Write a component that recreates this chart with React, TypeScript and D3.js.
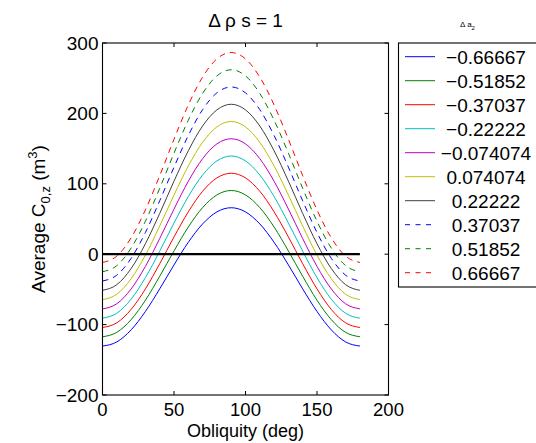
import React from "react";
import * as d3 from "d3";

// Obliquity samples (deg)
const obliquity = [0, 10, 20, 30, 40, 50, 60, 70, 80, 90, 100, 110, 120, 130, 140, 150, 160, 170, 180];

// Average C_{0,z} (m^3) for each Δa2 value
const cM066667 = [-130.5, -124.6, -107.5, -81.4, -49.3, -15.2, 16.9, 43.0, 60.1, 66.0, 60.1, 43.0, 16.9, -15.2, -49.3, -81.4, -107.5, -124.6, -130.5];
const cM051852 = [-117.3, -111.0, -93.0, -65.4, -31.4, 4.6, 38.6, 66.2, 84.2, 90.5, 84.2, 66.2, 38.6, 4.6, -31.4, -65.4, -93.0, -111.0, -117.3];
const cM037037 = [-104.1, -97.5, -78.5, -49.3, -13.6, 24.5, 60.2, 89.4, 108.4, 115.0, 108.4, 89.4, 60.2, 24.5, -13.6, -49.3, -78.5, -97.5, -104.1];
const cM022222 = [-90.9, -83.9, -63.9, -33.3, 4.3, 44.3, 81.9, 112.5, 132.5, 139.5, 132.5, 112.5, 81.9, 44.3, 4.3, -33.3, -63.9, -83.9, -90.9];
const cM0074074 = [-77.7, -70.4, -49.4, -17.3, 22.2, 64.1, 103.6, 135.7, 156.7, 164.0, 156.7, 135.7, 103.6, 64.1, 22.2, -17.3, -49.4, -70.4, -77.7];
const cP0074074 = [-64.5, -56.9, -34.9, -1.3, 40.0, 84.0, 125.3, 158.9, 180.9, 188.5, 180.9, 158.9, 125.3, 84.0, 40.0, -1.3, -34.9, -56.9, -64.5];
const cP022222 = [-51.3, -43.3, -20.4, 14.8, 57.9, 103.8, 146.9, 182.1, 205.0, 213.0, 205.0, 182.1, 146.9, 103.8, 57.9, 14.8, -20.4, -43.3, -51.3];
const cP037037 = [-38.1, -29.8, -5.9, 30.8, 75.8, 123.6, 168.6, 205.3, 229.2, 237.5, 229.2, 205.3, 168.6, 123.6, 75.8, 30.8, -5.9, -29.8, -38.1];
const cP051852 = [-24.9, -16.2, 8.7, 46.8, 93.6, 143.5, 190.3, 228.4, 253.3, 262.0, 253.3, 228.4, 190.3, 143.5, 93.6, 46.8, 8.7, -16.2, -24.9];
const cP066667 = [-11.7, -2.7, 23.2, 62.9, 111.5, 163.3, 212.0, 251.6, 277.5, 286.5, 277.5, 251.6, 212.0, 163.3, 111.5, 62.9, 23.2, -2.7, -11.7];

const seriesLabels = ["\u22120.66667", "\u22120.51852", "\u22120.37037", "\u22120.22222", "\u22120.074074", "0.074074", "0.22222", "0.37037", "0.51852", "0.66667"];
const seriesValues = [cM066667, cM051852, cM037037, cM022222, cM0074074, cP0074074, cP022222, cP037037, cP051852, cP066667];
const seriesColors = ["#0000ff", "#008000", "#ff0000", "#00bfbf", "#bf00bf", "#bfbf00", "#404040", "#0000ff", "#008000", "#ff0000"];
const seriesDashed = [false, false, false, false, false, false, false, true, true, true];

const xTicks = [0, 50, 100, 150, 200];
const yTicks = [-200, -100, 0, 100, 200, 300];
const zeroLineX = [0, 180];

const FONT = "'Liberation Sans', Arial, Helvetica, sans-serif";

export default function App() {
  const W = 536;
  const H = 443;
  const left = 102.5;
  const right = 388.5;
  const top = 43;
  const bottom = 395;

  const x = d3.scaleLinear().domain([0, 200]).range([left, right]);
  const y = d3.scaleLinear().domain([-200, 300]).range([bottom, top]);

  const line = d3
    .line<number>()
    .x((_, i) => x(obliquity[i]))
    .y((d) => y(d))
    .curve(d3.curveMonotoneX);

  const tickLen = 4;
  const fmt = (v: number) => (v < 0 ? "\u2212" + Math.abs(v) : String(v));

  const legLeft = 398.5;
  const legTop = 43;
  const legBottom = 287;
  const legRight = 537;
  const legRow0 = 56.7;
  const legStep = 24;

  return (
    <svg
      width={W}
      height={H}
      style={{ position: "absolute", left: 0, top: 0, background: "#fff" }}
      fontFamily={FONT}
    >
      <rect x={0} y={0} width={W} height={H} fill="#fff" />

      {/* curves */}
      {seriesValues.map((vals, k) => (
        <path
          key={k}
          d={line(vals) || ""}
          fill="none"
          stroke={seriesColors[k]}
          strokeWidth={1}
          strokeDasharray={seriesDashed[k] ? "6,5" : undefined}
        />
      ))}

      {/* zero reference line */}
      <line
        x1={x(zeroLineX[0])}
        x2={x(zeroLineX[1])}
        y1={y(0)}
        y2={y(0)}
        stroke="#000"
        strokeWidth={2.2}
      />

      {/* axes box */}
      <rect x={left} y={top} width={right - left} height={bottom - top} fill="none" stroke="#000" strokeWidth={1.1} />

      {/* x ticks */}
      {xTicks.map((t) => (
        <g key={"x" + t}>
          <line x1={x(t)} x2={x(t)} y1={bottom} y2={bottom - tickLen} stroke="#000" />
          <line x1={x(t)} x2={x(t)} y1={top} y2={top + tickLen} stroke="#000" />
          <text x={x(t)} y={416} fontSize={18.5} textAnchor="middle">
            {fmt(t)}
          </text>
        </g>
      ))}

      {/* y ticks */}
      {yTicks.map((t) => (
        <g key={"y" + t}>
          <line x1={left} x2={left + tickLen} y1={y(t)} y2={y(t)} stroke="#000" />
          <line x1={right} x2={right - tickLen} y1={y(t)} y2={y(t)} stroke="#000" />
          <text x={98.5} y={y(t) + 6.5} fontSize={19} textAnchor="end">
            {fmt(t)}
          </text>
        </g>
      ))}

      {/* axis labels */}
      <text x={(left + right) / 2} y={437} fontSize={18} textAnchor="middle">
        Obliquity (deg)
      </text>
      <text
        transform={`translate(45,${(top + bottom) / 2}) rotate(-90)`}
        fontSize={19}
        textAnchor="middle"
      >
        Average C
        <tspan fontSize={13} dy={5}>0,z</tspan>
        <tspan dy={-5}> (m</tspan>
        <tspan fontSize={13} dy={-8}>3</tspan>
        <tspan dy={8}>)</tspan>
      </text>

      {/* title */}
      <text x={(left + right) / 2} y={26.5} fontSize={19} textAnchor="middle">
        {"\u0394 \u03c1 s = 1"}
      </text>

      {/* legend title */}
      <text x={467.5} y={27} fontSize={8} textAnchor="middle">
        {"\u0394 a"}
        <tspan fontSize={6} dy={2.5}>2</tspan>
      </text>

      {/* legend */}
      <rect x={legLeft} y={legTop} width={legRight - legLeft} height={legBottom - legTop} fill="#fff" stroke="#000" strokeWidth={1.1} />
      {seriesLabels.map((lab, k) => {
        const yy = legRow0 + legStep * k;
        return (
          <g key={"leg" + k}>
            <line
              x1={405}
              x2={435}
              y1={yy}
              y2={yy}
              stroke={seriesColors[k]}
              strokeWidth={1}
              strokeDasharray={seriesDashed[k] ? "5,5.5" : undefined}
            />
            <text x={486} y={yy + 6.8} fontSize={19} textAnchor="middle">
              {lab}
            </text>
          </g>
        );
      })}
    </svg>
  );
}
